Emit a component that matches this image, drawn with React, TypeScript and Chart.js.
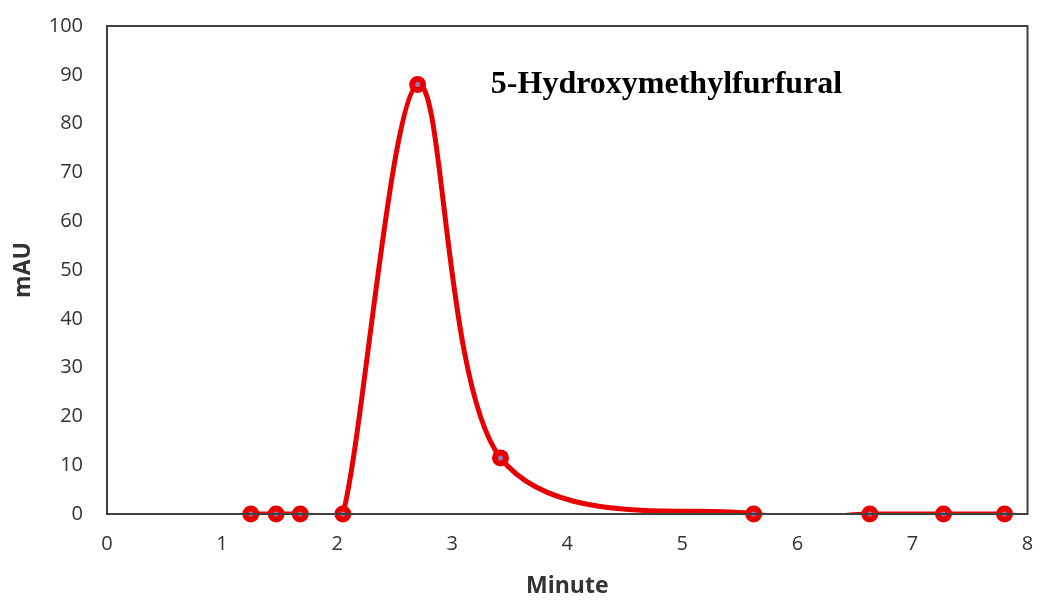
import React, { useEffect, useRef } from "react";
import { Chart, registerables } from "chart.js";

Chart.register(...registerables);

const minutes = [1.25, 1.47, 1.68, 2.05, 2.7, 3.42, 5.62, 6.63, 7.27, 7.8];
const mau = [0, 0, 0, 0, 88, 11.5, 0, 0, 0, 0];
const xTicks = [0, 1, 2, 3, 4, 5, 6, 7, 8];
const yTicks = [0, 10, 20, 30, 40, 50, 60, 70, 80, 90, 100];
const compoundLabel = "5-Hydroxymethylfurfural";

const RED = "#e80000";

export default function App() {
  const ref = useRef<HTMLCanvasElement | null>(null);
  useEffect(() => {
    document.body.style.margin = "0";
    const pts = minutes.map((x, i) => ({ x, y: mau[i] }));
    const framePlugin = {
      id: "frame",
      afterDraw(chart: any) {
        const { ctx, chartArea } = chart;
        ctx.save();
        ctx.strokeStyle = "#404040";
        ctx.lineWidth = 2;
        ctx.strokeRect(chartArea.left, chartArea.top, chartArea.right - chartArea.left, chartArea.bottom - chartArea.top);
        ctx.restore();
      },
    };
    // Excel-style smoothing: control handles = (next - prev) / 6
    const smoothPlugin = {
      id: "excelSmooth",
      beforeDatasetDraw(chart: any, args: any) {
        if (args.index !== 0) return;
        const line = args.meta.dataset;
        if (!line) return;
        if (typeof line.updateControlPoints === "function") line.updateControlPoints(chart.chartArea, "x");
        const p = args.meta.data;
        for (let i = 0; i < p.length; i++) {
          const prev = p[i - 1] || p[i];
          const next = p[i + 1] || p[i];
          const vx = (next.x - prev.x) / 6;
          const vy = (next.y - prev.y) / 6;
          p[i].cp1x = p[i].x - vx;
          p[i].cp1y = p[i].y - vy;
          p[i].cp2x = p[i].x + vx;
          p[i].cp2y = p[i].y + vy;
        }
        line._pointsUpdated = true;
        line._path = undefined;
      },
    };
    const labelPlugin = {
      id: "label",
      afterDatasetsDraw(chart: any) {
        const { ctx, chartArea } = chart;
        ctx.save();
        ctx.font = "bold 32px 'Liberation Serif', 'Times New Roman', serif";
        ctx.fillStyle = "#000";
        ctx.textBaseline = "alphabetic";
        ctx.textAlign = "left";
        const x = chartArea.left + (chartArea.right - chartArea.left) * 0.417;
        const y = chartArea.top + (chartArea.bottom - chartArea.top) * 0.137;
        ctx.fillText(compoundLabel, x, y);
        ctx.restore();
      },
    };
    const chart = new Chart(ref.current!, {
      type: "scatter",
      data: {
        datasets: [
          {
            data: pts,
            showLine: true,
            borderColor: RED,
            borderWidth: 5,
            pointRadius: 0,
            tension: 0.4,
            clip: 0,
            order: 2,
          } as any,
          {
            data: pts,
            showLine: false,
            pointRadius: 5.5,
            pointBorderWidth: 6,
            pointBorderColor: RED,
            pointBackgroundColor: "#8a80b4",
            clip: false,
            order: 1,
          } as any,
        ],
      },
      plugins: [smoothPlugin, framePlugin, labelPlugin],
      options: {
        animation: false,
        responsive: false,
        maintainAspectRatio: false,
        layout: { padding: { top: 26, right: 7, left: 0, bottom: 0 } },
        plugins: { legend: { display: false }, tooltip: { enabled: false } },
        scales: {
          x: {
            type: "linear",
            min: 0,
            max: 8,
            grid: { display: false, drawTicks: false },
            border: { display: false },
            afterBuildTicks: (s: any) => {
              s.ticks = xTicks.map((v) => ({ value: v }));
            },
            afterFit: (s: any) => {
              s.height = 86;
              s.paddingLeft = 0;
              s.paddingRight = 0;
            },
            ticks: {
              padding: 18,
              color: "#333",
              font: { family: "'Open Sans', sans-serif", size: 20 },
            },
            title: {
              display: true,
              text: "Minute",
              color: "#333",
              padding: { top: 6, bottom: 0 },
              font: { family: "'Open Sans', sans-serif", size: 23, weight: "bold" },
            },
          },
          y: {
            type: "linear",
            min: 0,
            max: 100,
            grid: { display: false, drawTicks: false },
            border: { display: false },
            afterBuildTicks: (s: any) => {
              s.ticks = yTicks.map((v) => ({ value: v }));
            },
            afterFit: (s: any) => {
              s.width = 107;
              s.paddingTop = 0;
              s.paddingBottom = 0;
            },
            ticks: {
              padding: 24,
              color: "#333",
              font: { family: "'Open Sans', sans-serif", size: 20 },
            },
            title: {
              display: true,
              text: "mAU",
              color: "#333",
              padding: { top: 10, bottom: 6 },
              font: { family: "'Open Sans', sans-serif", size: 23, weight: "bold" },
            },
          },
        },
      },
    });
    return () => chart.destroy();
  }, []);
  return (
    <div style={{ width: 1039, height: 600, background: "#fff" }}>
      <canvas ref={ref} width={1039} height={600} />
    </div>
  );
}
